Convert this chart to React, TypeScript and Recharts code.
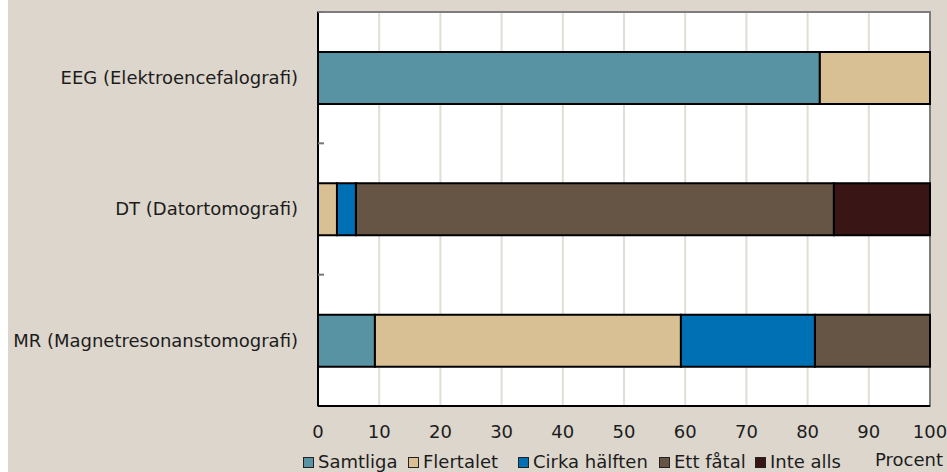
import { BarChart, Bar, XAxis, YAxis, CartesianGrid, ReferenceArea } from "recharts";

const FONT = '"DejaVu Sans", Verdana, sans-serif';
const BG = "#dcd6cc";
const INK = "#1c1c1c";

const categories = ["EEG (Elektroencefalografi)", "DT (Datortomografi)", "MR (Magnetresonanstomografi)"];
const samtliga = [82, 0, 9.3];
const flertalet = [18, 3.1, 50];
const cirkaHalften = [0, 3.1, 21.9];
const ettFatal = [0, 78.1, 18.8];
const inteAlls = [0, 15.7, 0];
const xTicks = [0, 10, 20, 30, 40, 50, 60, 70, 80, 90, 100];

const series = [
  { key: "Samtliga", values: samtliga, color: "#5893a4" },
  { key: "Flertalet", values: flertalet, color: "#d9bf94" },
  { key: "Cirka hälften", values: cirkaHalften, color: "#0070b5" },
  { key: "Ett fåtal", values: ettFatal, color: "#665444" },
  { key: "Inte alls", values: inteAlls, color: "#391516" },
];

const W = 939;
const H = 472;
const MARGIN = { top: 12, right: 17, left: 0, bottom: 0 };
const X_AXIS_H = 66;
const Y_AXIS_W = 310;
const BAND = (H - MARGIN.top - MARGIN.bottom - X_AXIS_H) / categories.length;

// left edge of each legend swatch, in container px
const legendLeft = [295, 400, 510, 651, 747];

// category label plus a short inward tick on the boundary above it
function CategoryTick({ x, y, payload }: any) {
  const axisX = Y_AXIS_W;
  return (
    <g>
      <text x={x} y={y} dy="0.355em" textAnchor="end" fontSize={18} fill={INK} fontFamily={FONT}>{payload.value}</text>
      <line x1={axisX} x2={axisX + 6} y1={y - BAND / 2} y2={y - BAND / 2} stroke="#777" strokeWidth={2} />
    </g>
  );
}

export default function App() {
  const data = categories.map((name, i) => {
    const row: Record<string, number | string> = { name };
    series.forEach(s => { row[s.key] = s.values[i]; });
    return row;
  });

  return (
    <div style={{ position: "absolute", left: 8, top: 0, width: W, height: H, background: BG, fontFamily: FONT, overflow: "hidden" }}>
      <BarChart width={W} height={H} data={data} layout="vertical" barSize={52} margin={MARGIN}>
        <CartesianGrid horizontal={false} stroke="#e2ddd5" strokeWidth={2} fill="#fff" />
        <XAxis type="number" domain={[0, 100]} ticks={xTicks} height={X_AXIS_H}
          axisLine={{ stroke: "#000", strokeWidth: 2 }} tickLine={false} tickSize={0} tickMargin={19}
          tick={{ fontSize: 18, fill: INK, fontFamily: FONT }} />
        <YAxis type="category" dataKey="name" width={Y_AXIS_W}
          axisLine={{ stroke: "#000", strokeWidth: 2 }} tickLine={false} tickSize={0} tickMargin={20}
          tick={<CategoryTick />} />
        <ReferenceArea x1={0} x2={100} stroke="#7d7d7d" strokeWidth={2} fill="none" fillOpacity={0} />
        {series.map(s => (
          <Bar key={s.key} dataKey={s.key} name={s.key} stackId="a" fill={s.color}
            stroke="#000" strokeWidth={2} isAnimationActive={false} />
        ))}
      </BarChart>

      {series.map((s, i) => (
        <div key={s.key} style={{ position: "absolute", left: legendLeft[i], top: 451, display: "flex", alignItems: "flex-start", fontSize: 18, lineHeight: "21px", color: INK, whiteSpace: "nowrap" }}>
          <span style={{ display: "inline-block", width: 9, height: 9, marginTop: 6, marginRight: 4, background: s.color, border: "1.5px solid #222" }} />
          {s.key}
        </div>
      ))}
      <div style={{ position: "absolute", right: 4, top: 449, fontSize: 18, lineHeight: "21px", color: INK }}>Procent</div>
    </div>
  );
}
